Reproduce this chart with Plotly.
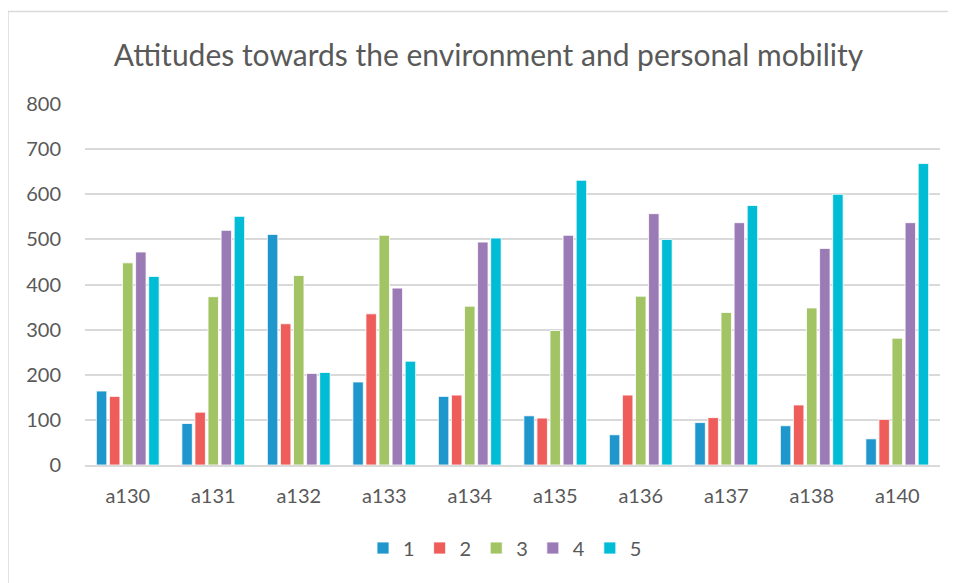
import plotly.graph_objects as go

categories = ["a130", "a131", "a132", "a133", "a134", "a135", "a136", "a137", "a138", "a140"]
series_names = ["1", "2", "3", "4", "5"]
s1 = [164, 92, 511, 184, 152, 109, 67, 94, 87, 58]
s2 = [152, 117, 313, 335, 155, 104, 155, 105, 133, 101]
s3 = [448, 373, 420, 509, 352, 298, 374, 338, 348, 281]
s4 = [472, 520, 203, 392, 494, 509, 557, 537, 480, 537]
s5 = [418, 551, 205, 230, 503, 631, 500, 575, 600, 668]
colors = ["#1F96CC", "#EE5D5A", "#A2C465", "#9B7BB5", "#00BCD4"]
title_text = "Attitudes towards the environment and personal mobility"

fig = go.Figure()
for name, vals, c in zip(series_names, [s1, s2, s3, s4, s5], colors):
    fig.add_trace(go.Bar(name=name, x=categories, y=vals,
                         marker=dict(color=c, line=dict(color="white", width=0.8))))

OFF = 8  # browser body margin
W, H = 956 - OFF, 583 - OFF
ml, mr, mt, mb = 85 - OFF, 16, 104 - OFF, 118
pw, ph = W - ml - mr, H - mt - mb

def px2x(p):
    return (p - OFF - ml) / pw

def py2y(p):
    return (H - mb - (p - OFF)) / ph

fig.update_layout(
    width=W, height=H,
    margin=dict(l=ml, r=mr, t=mt, b=mb),
    paper_bgcolor="white", plot_bgcolor="white",
    barmode="group", bargap=0.235, bargroupgap=0.2,
    font=dict(family="Lato", color="#595959", size=20),
    title=dict(text=title_text, x=(488.5 - OFF) / W, xanchor="center", xref="container",
               y=1 - (55 - OFF) / H, yanchor="middle",
               font=dict(family="Lato", size=30, color="#595959")),
    showlegend=True,
    legend=dict(orientation="h", x=px2x(505), xanchor="center", y=py2y(548), yanchor="middle",
                font=dict(size=20, color="#595959"), traceorder="normal",
                itemwidth=30),
    xaxis=dict(showgrid=False, showline=True, linecolor="#D9D9D9", linewidth=1.5,
               ticks="outside", ticklen=12, tickcolor="rgba(0,0,0,0)",
               tickfont=dict(size=20, color="#595959")),
    yaxis=dict(range=[0, 800], dtick=100, showgrid=True, gridcolor="#D9D9D9", gridwidth=1.5,
               zeroline=False, showline=False, ticks="outside", ticklen=19,
               tickcolor="rgba(0,0,0,0)", tickfont=dict(size=20, color="#595959")),
    shapes=[dict(type="rect", xref="paper", yref="paper",
                 x0=px2x(8), x1=px2x(970), y0=py2y(600), y1=py2y(11.5),
                 line=dict(color="#D9D9D9", width=1.5), fillcolor="rgba(0,0,0,0)", layer="below")],
)

fig.write_html("out.html")
